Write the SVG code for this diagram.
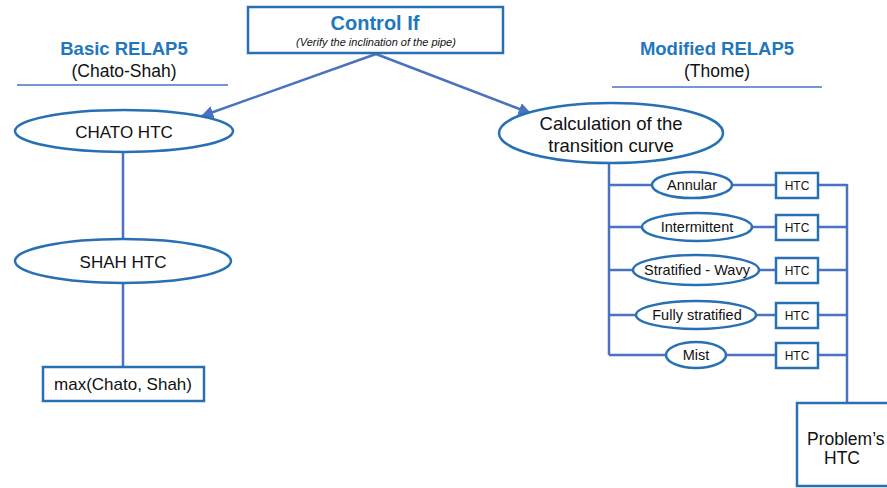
<svg xmlns="http://www.w3.org/2000/svg" width="887" height="488" viewBox="0 0 887 488">
<style>
.bg{fill:#ffffff}
.shape{fill:#ffffff;stroke:#2870B4;stroke-width:2.5}
.conn{fill:none;stroke:#4A72C0;stroke-width:2.5}
.rule{stroke:#4A72C0;stroke-width:1.5}
.t{font-family:"Liberation Sans",Arial,sans-serif;fill:#111111;text-anchor:middle}
.h{font-family:"Liberation Sans",Arial,sans-serif;font-weight:bold;fill:#1F78BE;text-anchor:middle}
</style>
<defs>
<marker id="arr" viewBox="0 0 10 10" refX="9" refY="5" markerWidth="5" markerHeight="5" orient="auto" markerUnits="strokeWidth">
<path d="M0,0 L10,5 L0,10 z" fill="#4A72C0"/>
</marker>
</defs>
<rect class="bg" x="0" y="0" width="887" height="488"/>

<g id="headers">
<text class="h" x="124" y="55" font-size="18.5">Basic RELAP5</text>
<text class="t" x="124" y="77" font-size="17.5">(Chato-Shah)</text>
<line class="rule" x1="17" y1="85" x2="228" y2="85"/>
<text class="h" x="717" y="55" font-size="18.5">Modified RELAP5</text>
<text class="t" x="717" y="77" font-size="17.5">(Thome)</text>
<line class="rule" x1="612" y1="87" x2="822" y2="87"/>
</g>

<g id="connectors">
<line class="conn" x1="376" y1="54" x2="202" y2="116" marker-end="url(#arr)"/>
<line class="conn" x1="376" y1="54" x2="530" y2="113" marker-end="url(#arr)"/>
<line class="conn" x1="123" y1="152" x2="123" y2="239"/>
<line class="conn" x1="123" y1="283" x2="123" y2="367"/>
<polyline class="conn" points="609,163 609,355"/>
<line class="conn" x1="609" y1="185" x2="652" y2="185"/>
<line class="conn" x1="609" y1="227" x2="642" y2="227"/>
<line class="conn" x1="609" y1="270" x2="633" y2="270"/>
<line class="conn" x1="609" y1="315" x2="636" y2="315"/>
<line class="conn" x1="609" y1="355" x2="666" y2="355"/>
<line class="conn" x1="732" y1="185" x2="776" y2="185"/>
<line class="conn" x1="752" y1="227" x2="776" y2="227"/>
<line class="conn" x1="759" y1="270" x2="776" y2="270"/>
<line class="conn" x1="756" y1="315" x2="776" y2="315"/>
<line class="conn" x1="726" y1="355" x2="776" y2="355"/>
<line class="conn" x1="818" y1="185" x2="847" y2="185"/>
<line class="conn" x1="818" y1="227" x2="847" y2="227"/>
<line class="conn" x1="818" y1="270" x2="847" y2="270"/>
<line class="conn" x1="818" y1="315" x2="847" y2="315"/>
<line class="conn" x1="818" y1="355" x2="847" y2="355"/>
<line class="conn" x1="847" y1="184" x2="847" y2="403"/>
</g>

<g id="control-if">
<rect class="shape" x="248" y="7" width="255" height="46"/>
<text class="h" x="375" y="30" font-size="20">Control If</text>
<text class="t" x="376" y="46" font-size="11" font-style="italic">(Verify the inclination of the pipe)</text>
</g>

<g id="chato-htc">
<ellipse class="shape" cx="124" cy="131" rx="109" ry="21"/>
<text class="t" x="124" y="138" font-size="17">CHATO HTC</text>
</g>

<g id="shah-htc">
<ellipse class="shape" cx="123" cy="261" rx="108" ry="22"/>
<text class="t" x="123" y="268" font-size="17">SHAH HTC</text>
</g>

<g id="max-box">
<rect class="shape" x="43" y="367" width="161" height="34"/>
<text class="t" x="123" y="390" font-size="17">max(Chato, Shah)</text>
</g>

<g id="calculation">
<ellipse class="shape" cx="611" cy="133" rx="112" ry="30"/>
<text class="t" x="611" y="130" font-size="18.5">Calculation of the</text>
<text class="t" x="611" y="152" font-size="18.5">transition curve</text>
</g>

<g id="annular">
<ellipse class="shape" cx="692" cy="185" rx="40" ry="13"/>
<text class="t" x="692" y="190" font-size="14.5">Annular</text>
</g>
<g id="intermittent">
<ellipse class="shape" cx="697" cy="227" rx="55" ry="14"/>
<text class="t" x="697" y="232" font-size="14.5">Intermittent</text>
</g>
<g id="stratified-wavy">
<ellipse class="shape" cx="696" cy="270" rx="63" ry="15"/>
<text class="t" x="697" y="275" font-size="14.5">Stratified - Wavy</text>
</g>
<g id="fully-stratified">
<ellipse class="shape" cx="696" cy="315" rx="60" ry="14"/>
<text class="t" x="697" y="320" font-size="14.5">Fully stratified</text>
</g>
<g id="mist">
<ellipse class="shape" cx="696" cy="355" rx="30" ry="13"/>
<text class="t" x="696" y="360" font-size="14.5">Mist</text>
</g>

<g id="htc-1"><rect class="shape" x="776" y="173" width="42" height="25"/><text class="t" x="797" y="189.5" font-size="12">HTC</text></g>
<g id="htc-2"><rect class="shape" x="776" y="215" width="42" height="25"/><text class="t" x="797" y="231.5" font-size="12">HTC</text></g>
<g id="htc-3"><rect class="shape" x="776" y="258" width="42" height="25"/><text class="t" x="797" y="274.5" font-size="12">HTC</text></g>
<g id="htc-4"><rect class="shape" x="776" y="303" width="42" height="25"/><text class="t" x="797" y="319.5" font-size="12">HTC</text></g>
<g id="htc-5"><rect class="shape" x="776" y="343" width="42" height="25"/><text class="t" x="797" y="359.5" font-size="12">HTC</text></g>

<g id="problems-htc">
<rect class="shape" x="797" y="403" width="110" height="83"/>
<text class="t" x="807" y="445" font-size="17.5" style="text-anchor:start">Problem’s</text>
<text class="t" x="842" y="464" font-size="17.5">HTC</text>
</g>
</svg>
